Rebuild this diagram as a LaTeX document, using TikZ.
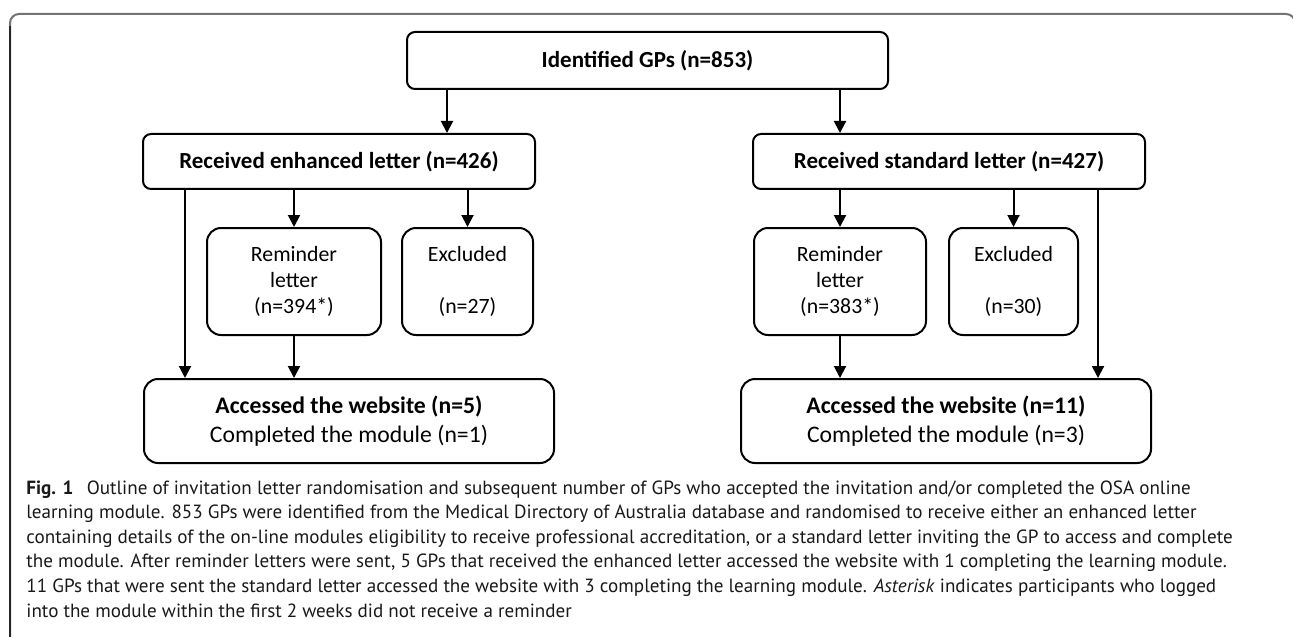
\documentclass[tikz,border=0pt]{standalone}
\usepackage{fontspec}
\setmainfont{Carlito}
\newfontfamily\capfont{PT Sans}
\usetikzlibrary{arrows.meta}

\tikzset{
  box/.style={draw, line width=1pt, align=center, inner sep=0pt},
  headbox/.style={box, rounded corners=4pt, font=\fontsize{11.5}{14.5}\selectfont},
  smallbox/.style={box, rounded corners=7pt, minimum height=53.5pt, font=\fontsize{10.9}{13}\selectfont},
  arr/.style={line width=1pt, -{Triangle[length=6pt, width=6pt]}},
}

\begin{document}
\begin{tikzpicture}[x=0.5pt, y=-0.5pt]
  \useasboundingbox (0,0) rectangle (1293,636);
  % frame of the figure
  \draw[black!55, line width=1pt, rounded corners=4.5pt] (10,650) |- (1295,14) -- (1295,650);
  \draw[black!85, line width=1pt] (10,650) -- (10,26);

  \node[headbox, minimum width=240.5pt, minimum height=28.5pt] (top) at (647.5,60.5) {\textbf{Identified GPs (n=853)}};
  \node[headbox, minimum width=196pt, minimum height=27.5pt] (enh) at (339,161.5) {\textbf{Received enhanced letter (n=426)}};
  \node[headbox, minimum width=196pt, minimum height=27.5pt] (std) at (949,161.5) {\textbf{Received standard letter (n=427)}};

  \node[smallbox, minimum width=87pt] (remL) at (294,281.5) {Reminder\\letter\\(n=394*)};
  \node[smallbox, minimum width=65.5pt] (excL) at (467.5,281.5) {Excluded\\~\\(n=27)};
  \node[smallbox, minimum width=86pt] (remR) at (840,281.5) {Reminder\\letter\\(n=383*)};
  \node[smallbox, minimum width=64.5pt] (excR) at (1013.5,281.5) {Excluded\\~\\(n=30)};

  \node[headbox, rounded corners=7pt, minimum width=205pt, minimum height=42pt,
        font=\fontsize{11.85}{14.5}\selectfont] (accL) at (349,421)
    {\textbf{Accessed the website (n=5)}\\Completed the module (n=1)};
  \node[headbox, rounded corners=7pt, minimum width=205pt, minimum height=42pt,
        font=\fontsize{11.85}{14.5}\selectfont] (accR) at (946,421)
    {\textbf{Accessed the website (n=11)}\\Completed the module (n=3)};

  % lanes of the arrows that do not meet a box centre
  \coordinate (toEnh) at (447,0);
  \coordinate (enhDir) at (185,0);
  \coordinate (stdDir) at (1098,0);

  \draw[arr] (top.south -| toEnh) -- (enh.north -| toEnh);
  \draw[arr] (top.south -| remR) -- (std.north -| remR);
  \draw[arr] (enh.south -| remL) -- (remL);
  \draw[arr] (enh.south -| excL) -- (excL);
  \draw[arr] (std.south -| remR) -- (remR);
  \draw[arr] (std.south -| excR) -- (excR);
  \draw[arr] (remL) -- (accL.north -| remL);
  \draw[arr] (remR) -- (accR.north -| remR);
  \draw[arr] (enh.south -| enhDir) -- (accL.north -| enhDir);
  \draw[arr] (std.south -| stdDir) -- (accR.north -| stdDir);

  \node[anchor=north west, inner sep=0pt, align=left, text=black!90,
        font=\capfont\fontsize{9.55}{12.3}\selectfont] (caption) at (26,480)
    {\textbf{Fig. 1}\hspace{0.7em}Outline of invitation letter randomisation and subsequent number of GPs who accepted the invitation and/or completed the OSA online\\
     learning module. 853 GPs were identified from the Medical Directory of Australia database and randomised to receive either an enhanced letter\\
     containing details of the on-line modules eligibility to receive professional accreditation, or a standard letter inviting the GP to access and complete\\
     the module. After reminder letters were sent, 5 GPs that received the enhanced letter accessed the website with 1 completing the learning module.\\
     11 GPs that were sent the standard letter accessed the website with 3 completing the learning module. \textit{Asterisk} indicates participants who logged\\
     into the module within the first 2 weeks did not receive a reminder};
\end{tikzpicture}
\end{document}
